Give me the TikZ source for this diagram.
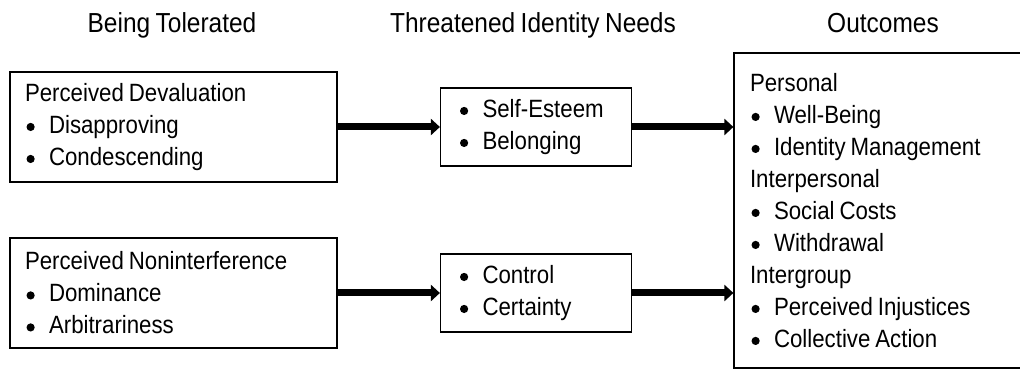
\documentclass[tikz,border=0pt]{standalone}
\usepackage{fontspec}
\setmainfont{Liberation Sans}[FakeStretch=0.89,WordSpace=0.8]
\usetikzlibrary{arrows.meta}
\newcommand{\itm}{\makebox[24pt][l]{\hspace{1.5pt}\raisebox{2.4pt}{\tikz\fill (0,0) circle (4.1pt);}}}
\tikzset{
   box node/.style={rectangle,draw,line width=1.2pt,align=flush left,
                    inner xsep=15pt,inner ysep=0pt,font=\fontsize{25}{32}\selectfont},
   head node/.style={anchor=base,font=\fontsize{27.5}{33}\selectfont}
}

\begin{document}
\begin{tikzpicture}[x=1pt,y=1pt,
                    thick_arrow/.style={-{Triangle[length=9pt,width=16pt]},line width=7pt}]
\useasboundingbox (0,0) rectangle (1020,369);
% column headings
\node[head node] (tolerated) at (172,336) {Being Tolerated};
\node[head node] (needs)     at (533,336) {Threatened Identity Needs};
\node[head node] (outhead)   at (883,336) {Outcomes};
%
\node[box node,text width=297pt,minimum height=110pt] (devaluation)     at (173.5,242) {Perceived Devaluation\\\itm Disapproving\\\itm Condescending};
\node[box node,text width=297pt,minimum height=110pt] (noninterference) at (173.5,76)  {Perceived Noninterference\\\itm Dominance\\\itm Arbitrariness};
\node[box node,inner xsep=18pt,text width=155pt,minimum height=78pt] (esteem)  at (536,242) {\itm Self-Esteem\\\itm Belonging};
\node[box node,inner xsep=18pt,text width=155pt,minimum height=78pt] (control) at (536,76)  {\itm Control\\\itm Certainty};
\node[box node,inner xsep=16pt,text width=266pt,minimum height=315pt] (outcomes) at (883,158.5)
  {Personal\\\itm Well-Being\\\itm Identity Management\\Interpersonal\\\itm Social Costs\\\itm Withdrawal\\Intergroup\\\itm Perceived Injustices\\\itm Collective Action};
%
\path[thick_arrow]
  (devaluation) edge (esteem)
  (noninterference) edge (control)
  (esteem.east) edge (esteem.east -| outcomes.west)
  (control.east) edge (control.east -| outcomes.west)
  ;
\end{tikzpicture}
\end{document}
